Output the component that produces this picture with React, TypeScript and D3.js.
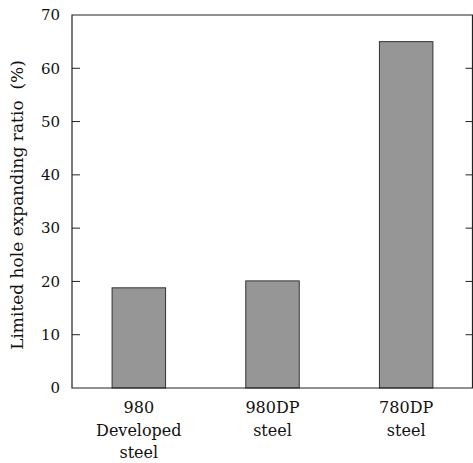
import React, { useEffect, useRef } from "react";
import * as d3 from "d3";

const categories = ["980 Developed steel", "980DP steel", "780DP steel"];
const categoryLines = [["980", "Developed", "steel"], ["980DP", "steel"], ["780DP", "steel"]];
const values = [18.8, 20.1, 65];
const yTicks = [0, 10, 20, 30, 40, 50, 60, 70];
const yLabel = "Limited hole expanding ratio\u00a0\u00a0(%)";

const App = () => {
  const ref = useRef<SVGSVGElement>(null);

  useEffect(() => {
    const width = 473;
    const height = 463;
    const margin = { top: 15, right: 0, bottom: 75, left: 72 };
    const font = "DejaVu Serif";

    const svg = d3.select(ref.current);
    svg.selectAll("*").remove();

    const x = d3
      .scaleBand()
      .domain(categories)
      .range([margin.left, width - margin.right])
      .paddingInner(0.6)
      .paddingOuter(0.3);

    const y = d3
      .scaleLinear()
      .domain([0, 70])
      .range([height - margin.bottom, margin.top]);

    // bars
    svg
      .append("g")
      .selectAll("rect")
      .data(values)
      .join("rect")
      .attr("x", (d, i) => x(categories[i]))
      .attr("y", (d) => y(d))
      .attr("width", x.bandwidth())
      .attr("height", (d) => y(0) - y(d))
      .attr("fill", "#969696")
      .attr("stroke", "#333")
      .attr("stroke-width", 1);

    // frame
    const x0 = margin.left;
    const x1 = width - margin.right - 0.5;
    svg
      .append("path")
      .attr("d", `M${x0},${y(70)}H${x1}V${y(0)}H${x0}Z`)
      .attr("fill", "none")
      .attr("stroke", "#222")
      .attr("stroke-width", 1.2);

    // ticks
    const tg = svg.append("g");
    tg.selectAll("line.l")
      .data(yTicks.slice(1, -1))
      .join("line")
      .attr("x1", x0)
      .attr("x2", x0 + 8)
      .attr("y1", (d) => y(d))
      .attr("y2", (d) => y(d))
      .attr("stroke", "#222");
    tg.selectAll("line.r")
      .data(yTicks.slice(1, -1))
      .join("line")
      .attr("x1", x1)
      .attr("x2", x1 - 7)
      .attr("y1", (d) => y(d))
      .attr("y2", (d) => y(d))
      .attr("stroke", "#222");

    // tick labels
    svg
      .append("g")
      .selectAll("text")
      .data(yTicks)
      .join("text")
      .attr("x", x0 - 12)
      .attr("y", (d) => y(d))
      .attr("dy", "0.35em")
      .attr("text-anchor", "end")
      .style("font-family", font)
      .attr("font-size", 15)
      .attr("fill", "#111")
      .text((d) => d);

    // category labels
    const cg = svg
      .append("g")
      .selectAll("text")
      .data(categories)
      .join("text")
      .attr("text-anchor", "middle")
      .style("font-family", font)
      .attr("font-size", 16)
      .attr("fill", "#111");
    cg.selectAll("tspan")
      .data((d, i) => categoryLines[i].map((t) => ({ t, c: d })))
      .join("tspan")
      .attr("x", (d) => x(d.c) + x.bandwidth() / 2)
      .attr("y", (d, j) => 413 + j * 22.5)
      .text((d) => d.t);

    // y label
    svg
      .append("text")
      .attr("transform", `translate(23,205) rotate(-90)`)
      .attr("text-anchor", "middle")
      .style("font-family", font)
      .attr("font-size", 17)
      .attr("fill", "#111")
      .text(yLabel);
  }, []);

  return (
    <svg
      ref={ref}
      width={473}
      height={463}
      style={{ position: "absolute", left: 0, top: 0, background: "#fff" }}
    />
  );
};

export default App;
